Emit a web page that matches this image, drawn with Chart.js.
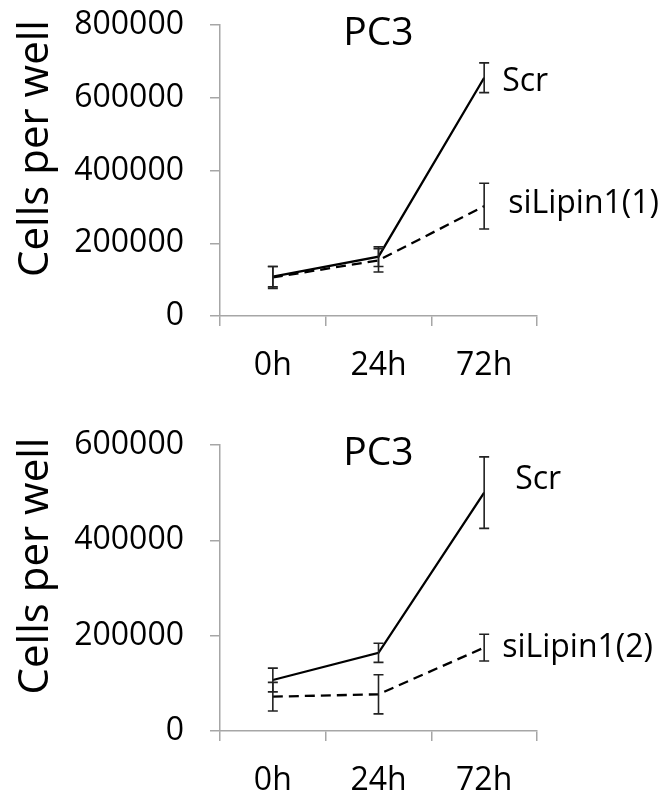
<!DOCTYPE html>
<html lang="en">
<head>
  <meta charset="UTF-8" />
  <title>PC3 cells per well</title>
  <script src="https://cdn.jsdelivr.net/npm/chart.js"></script>
  <style>
    body { margin: 0; background: #fff; }
    .panel { position: relative; width: 667px; }
  </style>
</head>
<body>

  <!-- two stacked panels -->
  <div class="panel" style="height:400px"><canvas id="topChart" width="667" height="400"></canvas></div>
  <div class="panel" style="height:398px"><canvas id="bottomChart" width="667" height="398"></canvas></div>

  <script>
    const timepoints = ['0h', '24h', '72h'];

    // top panel (siLipin1(1))
    const scrTop = [108000, 163000, 655000];
    const scrTopErr = [28000, 27000, 41000];
    const siTop = [106000, 153000, 302000];
    const siTopErr = [30000, 32000, 63000];
    const topTicks = [0, 200000, 400000, 600000, 800000];

    // bottom panel (siLipin1(2))
    const scrBottom = [107000, 164000, 500000];
    const scrBottomErr = [25000, 20000, 75000];
    const siBottom = [72000, 77000, 175000];
    const siBottomErr = [30000, 41000, 28000];
    const bottomTicks = [0, 200000, 400000, 600000];

    const FONT = '"Open Sans", sans-serif';
    const AXIS = '#a6a6a6';

    // error bars, end labels, title and y title
    const overlay = {
      id: 'overlay',
      afterDatasetsDraw(chart, args, opts) {
        const { ctx, chartArea, scales: { x, y } } = chart;
        ctx.save();
        chart.data.datasets.forEach((ds, i) => {
          ctx.strokeStyle = '#222';
          ctx.lineWidth = 1.6;
          ctx.setLineDash([]);
          ds.err.forEach((e, j) => {
            const px = x.getPixelForValue(j);
            const hi = y.getPixelForValue(ds.data[j] + e);
            const lo = y.getPixelForValue(ds.data[j] - e);
            ctx.beginPath();
            ctx.moveTo(px, hi); ctx.lineTo(px, lo);
            ctx.moveTo(px - 5, hi); ctx.lineTo(px + 5, hi);
            ctx.moveTo(px - 5, lo); ctx.lineTo(px + 5, lo);
            ctx.stroke();
          });
          const last = ds.data.length - 1;
          const off = opts.offsets[i];
          ctx.fillStyle = '#000';
          ctx.font = '32px ' + FONT;
          ctx.textAlign = 'left';
          ctx.textBaseline = 'middle';
          ctx.fillText(ds.label, x.getPixelForValue(last) + off[0], y.getPixelForValue(ds.data[last]) + off[1]);
        });

        ctx.textAlign = 'center';
        ctx.font = '39px ' + FONT;
        ctx.fillText(opts.title, (chartArea.left + chartArea.right) / 2, chartArea.top + 9);

        ctx.translate(36, (chartArea.top + chartArea.bottom) / 2 - 22);
        ctx.rotate(-Math.PI / 2);
        ctx.font = '42px ' + FONT;
        ctx.fillText('Cells per well', 0, 0);
        ctx.restore();
      }
    };

    function makeChart(id, scr, scrErr, si, siErr, siName, ticks, padTop, xHeight, offsets) {
      return new Chart(document.getElementById(id), {
        type: 'line',
        data: {
          labels: timepoints,
          datasets: [
            { label: 'Scr', data: scr, err: scrErr, borderColor: '#000', borderWidth: 2.3, pointRadius: 0, tension: 0 },
            { label: siName, data: si, err: siErr, borderColor: '#000', borderWidth: 2.3, borderDash: [10, 6], pointRadius: 0, tension: 0 }
          ]
        },
        options: {
          responsive: false,
          animation: false,
          events: [],
          layout: { padding: { top: padTop, right: 130, bottom: 0, left: 0 } },
          plugins: {
            legend: { display: false },
            tooltip: { enabled: false },
            overlay: { title: 'PC3', offsets: offsets }
          },
          scales: {
            x: {
              offset: true,
              grid: { offset: true, drawOnChartArea: false, tickLength: 10, color: AXIS, lineWidth: 1.5 },
              border: { color: AXIS, width: 1.5 },
              ticks: { padding: 21, color: '#000', font: { family: FONT, size: 32 } },
              afterFit(s) { s.height = xHeight; s.paddingLeft = 0; s.paddingRight = 0; }
            },
            y: {
              min: ticks[0],
              max: ticks[ticks.length - 1],
              afterBuildTicks(s) { s.ticks = ticks.map(v => ({ value: v })); },
              grid: { drawOnChartArea: false, tickLength: 10, color: AXIS, lineWidth: 1.5 },
              border: { color: AXIS, width: 1.5 },
              ticks: { padding: 26, color: '#000', font: { family: FONT, size: 32 }, callback: v => String(v) },
              afterFit(s) { s.width = 220; s.paddingTop = 0; s.paddingBottom = 0; }
            }
          }
        },
        plugins: [overlay]
      });
    }

    makeChart('topChart', scrTop, scrTopErr, siTop, siTopErr, 'siLipin1(1)', topTicks, 25, 84,
      [[18, 4], [24, -2]]);
    makeChart('bottomChart', scrBottom, scrBottomErr, siBottom, siBottomErr, 'siLipin1(2)', bottomTicks, 45, 67,
      [[31, -13], [18, 0]]);
  </script>
</body>
</html>
